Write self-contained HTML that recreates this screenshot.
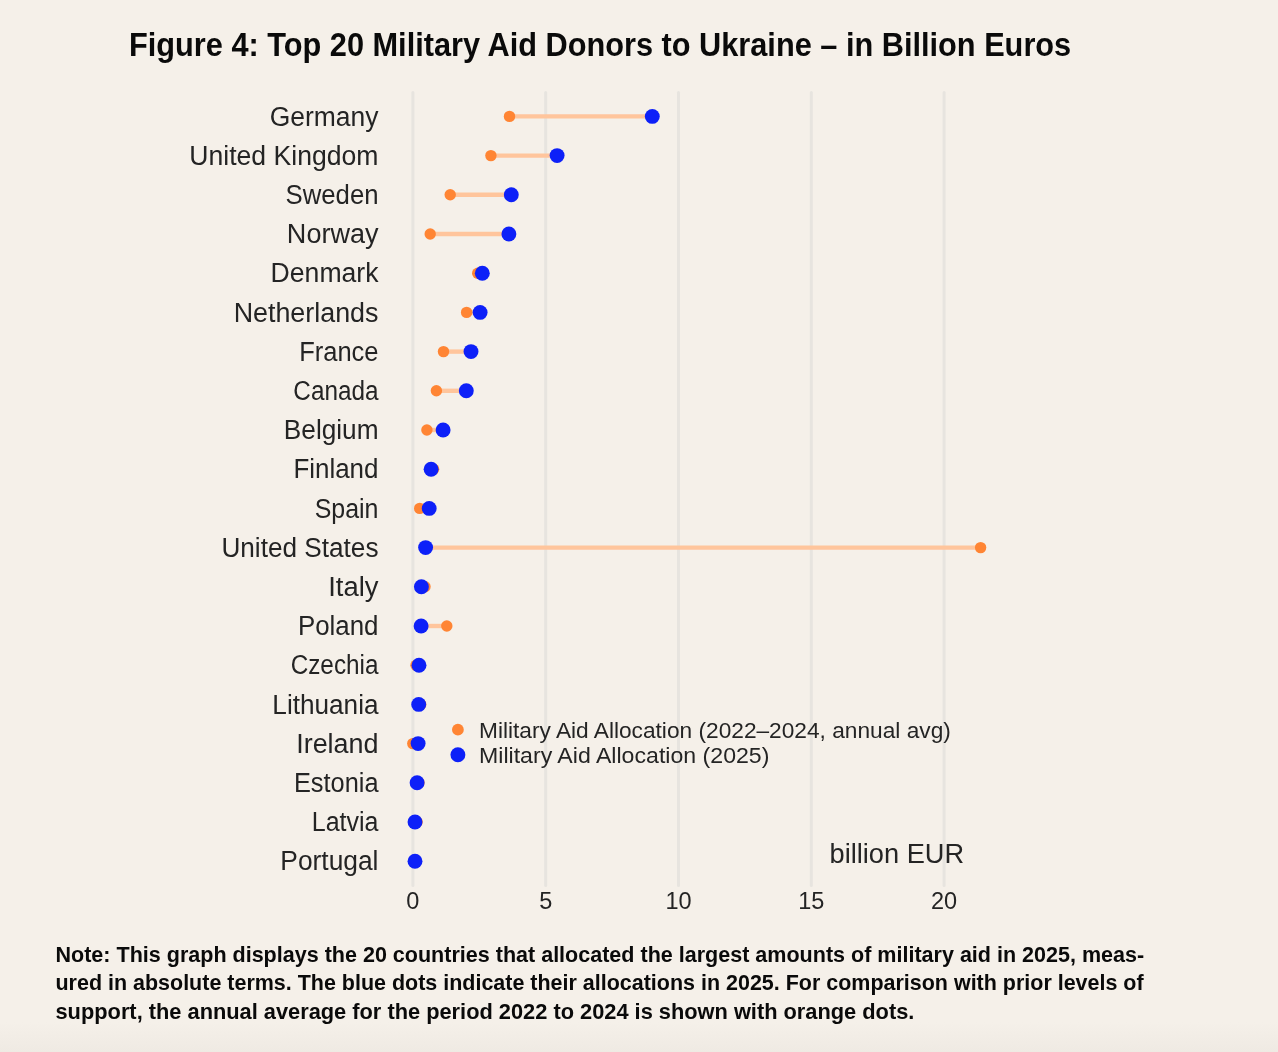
<!DOCTYPE html>
<html><head><meta charset="utf-8">
<style>
html,body{margin:0;padding:0;}
body{width:1278px;height:1052px;overflow:hidden;position:relative;background:linear-gradient(to bottom,#F5F0E9 0px,#F5F0E9 1022px,#EFEAE3 1052px);}
svg{position:absolute;left:0;top:0;will-change:transform;}
text{font-family:"Liberation Sans",sans-serif;}
.lab{font-size:27px;fill:#242424;}
.ax{font-size:23.5px;fill:#242424;}
.leg{font-size:21.8px;fill:#242424;}
.unit{font-size:27.5px;fill:#242424;}
.title{font-weight:bold;font-size:33.5px;fill:#0A0A0A;}
.note{font-weight:bold;font-size:22px;fill:#0A0A0A;}
</style></head>
<body>
<svg width="1278" height="1052" viewBox="0 0 1278 1052">
<text x="129" y="56.3" class="title" textLength="942.20" lengthAdjust="spacingAndGlyphs">Figure 4: Top 20 Military Aid Donors to Ukraine – in Billion Euros</text>
<line x1="412.9" y1="92.5" x2="412.9" y2="885.5" stroke="#E7E4DF" stroke-width="3.0" stroke-linecap="round"/>
<line x1="545.7" y1="92.5" x2="545.7" y2="885.5" stroke="#E7E4DF" stroke-width="3.0" stroke-linecap="round"/>
<line x1="678.5" y1="92.5" x2="678.5" y2="885.5" stroke="#E7E4DF" stroke-width="3.0" stroke-linecap="round"/>
<line x1="811.3" y1="92.5" x2="811.3" y2="885.5" stroke="#E7E4DF" stroke-width="3.0" stroke-linecap="round"/>
<line x1="944.1" y1="92.5" x2="944.1" y2="885.5" stroke="#E7E4DF" stroke-width="3.0" stroke-linecap="round"/>
<line x1="509.5" y1="116.4" x2="652.3" y2="116.4" stroke="#FFC59C" stroke-width="4.4"/>
<line x1="490.9" y1="155.6" x2="557.1" y2="155.6" stroke="#FFC59C" stroke-width="4.4"/>
<line x1="450.2" y1="194.8" x2="511.3" y2="194.8" stroke="#FFC59C" stroke-width="4.4"/>
<line x1="430.2" y1="234.0" x2="508.9" y2="234.0" stroke="#FFC59C" stroke-width="4.4"/>
<line x1="477.7" y1="273.2" x2="482.3" y2="273.2" stroke="#FFC59C" stroke-width="4.4"/>
<line x1="466.6" y1="312.4" x2="480.1" y2="312.4" stroke="#FFC59C" stroke-width="4.4"/>
<line x1="443.5" y1="351.6" x2="471" y2="351.6" stroke="#FFC59C" stroke-width="4.4"/>
<line x1="436.4" y1="390.8" x2="466.3" y2="390.8" stroke="#FFC59C" stroke-width="4.4"/>
<line x1="426.9" y1="430.0" x2="443.1" y2="430.0" stroke="#FFC59C" stroke-width="4.4"/>
<line x1="433.6" y1="469.2" x2="431.1" y2="469.2" stroke="#FFC59C" stroke-width="4.4"/>
<line x1="419.7" y1="508.4" x2="429.2" y2="508.4" stroke="#FFC59C" stroke-width="4.4"/>
<line x1="980.6" y1="547.6" x2="425.6" y2="547.6" stroke="#FFC59C" stroke-width="4.4"/>
<line x1="425" y1="586.8" x2="421.4" y2="586.8" stroke="#FFC59C" stroke-width="4.4"/>
<line x1="446.8" y1="626.0" x2="421.1" y2="626.0" stroke="#FFC59C" stroke-width="4.4"/>
<line x1="416" y1="665.2" x2="419" y2="665.2" stroke="#FFC59C" stroke-width="4.4"/>
<line x1="420.7" y1="704.4" x2="418.7" y2="704.4" stroke="#FFC59C" stroke-width="4.4"/>
<line x1="412.8" y1="743.6" x2="418.1" y2="743.6" stroke="#FFC59C" stroke-width="4.4"/>
<line x1="419" y1="782.8" x2="417.1" y2="782.8" stroke="#FFC59C" stroke-width="4.4"/>
<line x1="417.1" y1="822.0" x2="415" y2="822.0" stroke="#FFC59C" stroke-width="4.4"/>
<line x1="415" y1="861.2" x2="415" y2="861.2" stroke="#FFC59C" stroke-width="4.4"/>
<circle cx="509.5" cy="116.4" r="5.7" fill="#FF8534"/>
<circle cx="490.9" cy="155.6" r="5.7" fill="#FF8534"/>
<circle cx="450.2" cy="194.8" r="5.7" fill="#FF8534"/>
<circle cx="430.2" cy="234.0" r="5.7" fill="#FF8534"/>
<circle cx="477.7" cy="273.2" r="5.7" fill="#FF8534"/>
<circle cx="466.6" cy="312.4" r="5.7" fill="#FF8534"/>
<circle cx="443.5" cy="351.6" r="5.7" fill="#FF8534"/>
<circle cx="436.4" cy="390.8" r="5.7" fill="#FF8534"/>
<circle cx="426.9" cy="430.0" r="5.7" fill="#FF8534"/>
<circle cx="433.6" cy="469.2" r="5.7" fill="#FF8534"/>
<circle cx="419.7" cy="508.4" r="5.7" fill="#FF8534"/>
<circle cx="980.6" cy="547.6" r="5.7" fill="#FF8534"/>
<circle cx="425" cy="586.8" r="5.7" fill="#FF8534"/>
<circle cx="446.8" cy="626.0" r="5.7" fill="#FF8534"/>
<circle cx="416" cy="665.2" r="5.7" fill="#FF8534"/>
<circle cx="420.7" cy="704.4" r="5.7" fill="#FF8534"/>
<circle cx="412.8" cy="743.6" r="5.7" fill="#FF8534"/>
<circle cx="419" cy="782.8" r="5.7" fill="#FF8534"/>
<circle cx="417.1" cy="822.0" r="5.7" fill="#FF8534"/>
<circle cx="415" cy="861.2" r="5.7" fill="#FF8534"/>
<circle cx="652.3" cy="116.4" r="7.45" fill="#0D20F8"/>
<circle cx="557.1" cy="155.6" r="7.45" fill="#0D20F8"/>
<circle cx="511.3" cy="194.8" r="7.45" fill="#0D20F8"/>
<circle cx="508.9" cy="234.0" r="7.45" fill="#0D20F8"/>
<circle cx="482.3" cy="273.2" r="7.45" fill="#0D20F8"/>
<circle cx="480.1" cy="312.4" r="7.45" fill="#0D20F8"/>
<circle cx="471" cy="351.6" r="7.45" fill="#0D20F8"/>
<circle cx="466.3" cy="390.8" r="7.45" fill="#0D20F8"/>
<circle cx="443.1" cy="430.0" r="7.45" fill="#0D20F8"/>
<circle cx="431.1" cy="469.2" r="7.45" fill="#0D20F8"/>
<circle cx="429.2" cy="508.4" r="7.45" fill="#0D20F8"/>
<circle cx="425.6" cy="547.6" r="7.45" fill="#0D20F8"/>
<circle cx="421.4" cy="586.8" r="7.45" fill="#0D20F8"/>
<circle cx="421.1" cy="626.0" r="7.45" fill="#0D20F8"/>
<circle cx="419" cy="665.2" r="7.45" fill="#0D20F8"/>
<circle cx="418.7" cy="704.4" r="7.45" fill="#0D20F8"/>
<circle cx="418.1" cy="743.6" r="7.45" fill="#0D20F8"/>
<circle cx="417.1" cy="782.8" r="7.45" fill="#0D20F8"/>
<circle cx="415" cy="822.0" r="7.45" fill="#0D20F8"/>
<circle cx="415" cy="861.2" r="7.45" fill="#0D20F8"/>
<text x="378.5" y="125.5" class="lab" text-anchor="end" textLength="108.74" lengthAdjust="spacingAndGlyphs">Germany</text>
<text x="378.5" y="164.7" class="lab" text-anchor="end" textLength="189.21" lengthAdjust="spacingAndGlyphs">United Kingdom</text>
<text x="378.5" y="203.9" class="lab" text-anchor="end" textLength="92.88" lengthAdjust="spacingAndGlyphs">Sweden</text>
<text x="378.5" y="243.1" class="lab" text-anchor="end" textLength="91.61" lengthAdjust="spacingAndGlyphs">Norway</text>
<text x="378.5" y="282.3" class="lab" text-anchor="end" textLength="107.88" lengthAdjust="spacingAndGlyphs">Denmark</text>
<text x="378.5" y="321.5" class="lab" text-anchor="end" textLength="144.86" lengthAdjust="spacingAndGlyphs">Netherlands</text>
<text x="378.5" y="360.7" class="lab" text-anchor="end" textLength="79.34" lengthAdjust="spacingAndGlyphs">France</text>
<text x="378.5" y="399.9" class="lab" text-anchor="end" textLength="85.17" lengthAdjust="spacingAndGlyphs">Canada</text>
<text x="378.5" y="439.1" class="lab" text-anchor="end" textLength="94.65" lengthAdjust="spacingAndGlyphs">Belgium</text>
<text x="378.5" y="478.3" class="lab" text-anchor="end" textLength="85.12" lengthAdjust="spacingAndGlyphs">Finland</text>
<text x="378.5" y="517.5" class="lab" text-anchor="end" textLength="63.81" lengthAdjust="spacingAndGlyphs">Spain</text>
<text x="378.5" y="556.7" class="lab" text-anchor="end" textLength="157.08" lengthAdjust="spacingAndGlyphs">United States</text>
<text x="378.5" y="595.9" class="lab" text-anchor="end" textLength="50.25" lengthAdjust="spacingAndGlyphs">Italy</text>
<text x="378.5" y="635.1" class="lab" text-anchor="end" textLength="80.58" lengthAdjust="spacingAndGlyphs">Poland</text>
<text x="378.5" y="674.3" class="lab" text-anchor="end" textLength="87.85" lengthAdjust="spacingAndGlyphs">Czechia</text>
<text x="378.5" y="713.5" class="lab" text-anchor="end" textLength="106.14" lengthAdjust="spacingAndGlyphs">Lithuania</text>
<text x="378.5" y="752.7" class="lab" text-anchor="end" textLength="82.30" lengthAdjust="spacingAndGlyphs">Ireland</text>
<text x="378.5" y="791.9" class="lab" text-anchor="end" textLength="84.59" lengthAdjust="spacingAndGlyphs">Estonia</text>
<text x="378.5" y="831.1" class="lab" text-anchor="end" textLength="66.71" lengthAdjust="spacingAndGlyphs">Latvia</text>
<text x="378.5" y="870.3" class="lab" text-anchor="end" textLength="98.18" lengthAdjust="spacingAndGlyphs">Portugal</text>
<text x="412.9" y="908.8" class="ax" text-anchor="middle">0</text>
<text x="545.7" y="908.8" class="ax" text-anchor="middle">5</text>
<text x="678.5" y="908.8" class="ax" text-anchor="middle">10</text>
<text x="811.3" y="908.8" class="ax" text-anchor="middle">15</text>
<text x="944.1" y="908.8" class="ax" text-anchor="middle">20</text>
<circle cx="457.9" cy="729.7" r="5.9" fill="#FF8534"/>
<circle cx="457.9" cy="754.8" r="7.45" fill="#0D20F8"/>
<text x="479" y="737.5" class="leg" textLength="471.82" lengthAdjust="spacingAndGlyphs">Military Aid Allocation (2022–2024, annual avg)</text>
<text x="479" y="762.5" class="leg" textLength="290.43" lengthAdjust="spacingAndGlyphs">Military Aid Allocation (2025)</text>
<text x="829.5" y="863.2" class="unit" textLength="134.62" lengthAdjust="spacingAndGlyphs">billion EUR</text>
<text x="55.5" y="961.9" class="note" textLength="1088.66" lengthAdjust="spacingAndGlyphs">Note: This graph displays the 20 countries that allocated the largest amounts of military aid in 2025, meas-</text>
<text x="55.5" y="990" class="note" textLength="1088.14" lengthAdjust="spacingAndGlyphs">ured in absolute terms. The blue dots indicate their allocations in 2025. For comparison with prior levels of</text>
<text x="55.5" y="1018.5" class="note" textLength="858.87" lengthAdjust="spacingAndGlyphs">support, the annual average for the period 2022 to 2024 is shown with orange dots.</text>
</svg>
</body></html>
